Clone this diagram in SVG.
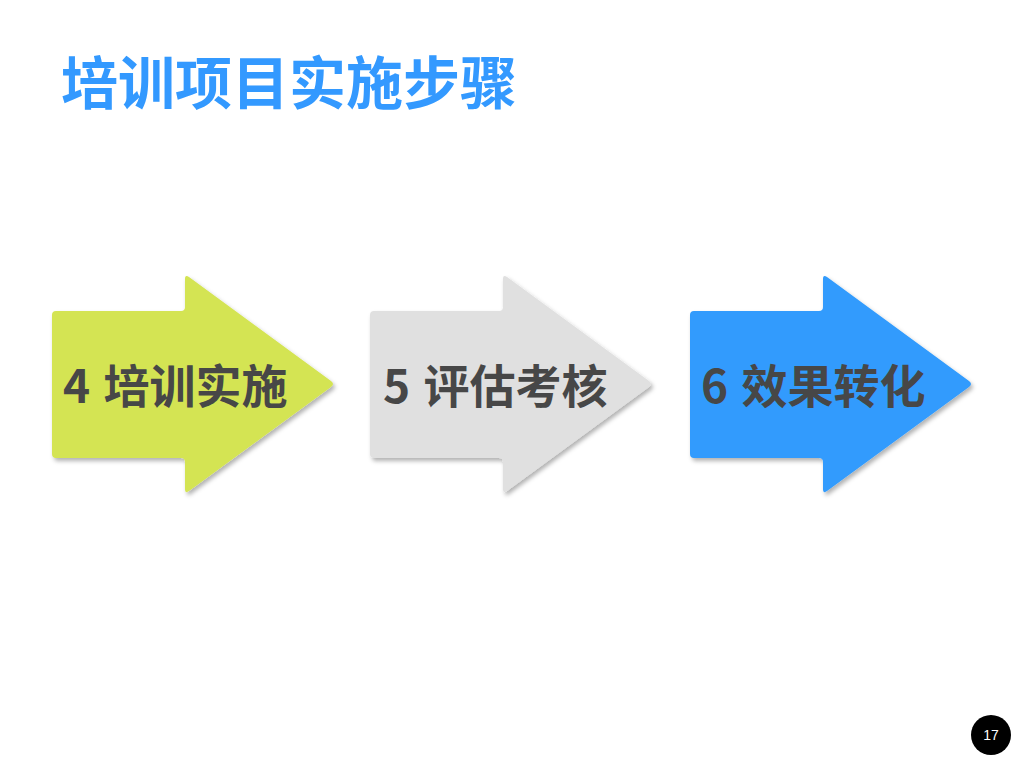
<svg xmlns="http://www.w3.org/2000/svg" width="1024" height="768" viewBox="0 0 1024 768">
<defs>
<filter id="sh" x="-10%" y="-10%" width="125%" height="125%">
<feDropShadow dx="2" dy="3" stdDeviation="2" flood-color="#000" flood-opacity="0.3"/>
</filter>
<path id="arrow" d="M 56 311 L 181 311 Q 185 311 185 307 L 185 279 Q 185 274 189 277 L 331 381 Q 335 384 331 387 L 189 491 Q 185 494 185 489 L 185 462 Q 185 458 181 458 L 56 458 Q 52 458 52 454 L 52 315 Q 52 311 56 311 Z"/>
</defs>
<style>
.lbl{font-family:"Noto Sans CJK SC","Noto Sans",sans-serif;font-weight:bold;font-size:46px;fill:#474747}
.title{font-family:"Noto Sans CJK SC","Noto Sans",sans-serif;font-weight:bold;font-size:57px;fill:#3399FF}
</style>
<rect width="1024" height="768" fill="#fff"/>
<text class="title" x="61" y="104">培训项目实施步骤</text>
<g id="step4">
<use href="#arrow" fill="#D4E452" filter="url(#sh)"/>
<text class="lbl" x="63" y="403">4 <tspan dx="3">培训实施</tspan></text>
</g>
<g id="step5">
<use href="#arrow" fill="#E0E0E0" filter="url(#sh)" transform="translate(318,0)"/>
<text class="lbl" x="383" y="403">5 <tspan dx="3">评估考核</tspan></text>
</g>
<g id="step6">
<use href="#arrow" fill="#319BFD" filter="url(#sh)" transform="translate(638,0)"/>
<text class="lbl" x="701" y="403">6 <tspan dx="3">效果转化</tspan></text>
</g>
<g id="connectors"/>
<g id="page">
<circle cx="991" cy="735" r="20" fill="#000"/>
<text x="991" y="740" text-anchor="middle" font-family="Liberation Sans, sans-serif" font-size="14" fill="#fff">17</text>
</g>
</svg>
